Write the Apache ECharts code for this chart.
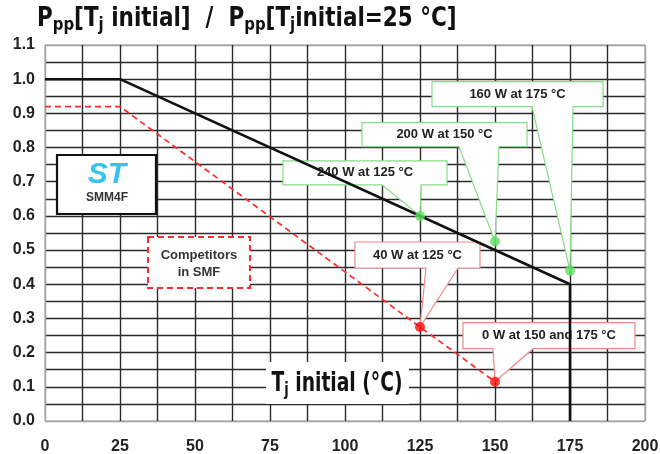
<!DOCTYPE html>
<html>
<head>
<meta charset="utf-8">
<script src="https://cdn.jsdelivr.net/npm/echarts@6/dist/echarts.min.js"></script>
<style>html,body{margin:0;padding:0;background:#fff;}#c{width:660px;height:454px;}</style>
</head>
<body>
<div id="c"></div>
<script>
// ---- data ----
const xTickValues = [0, 25, 50, 75, 100, 125, 150, 175, 200];
const yTickValues = [0.0, 0.1, 0.2, 0.3, 0.4, 0.5, 0.6, 0.7, 0.8, 0.9, 1.0, 1.1];
const stTemps = [0, 25, 175, 175];
const stRatio = [1.0, 1.0, 0.4, 0.0];
const compTemps = [0, 25, 125, 150];
const compRatio = [0.92, 0.92, 0.275, 0.115];
const stPointTemps = [125, 150, 175];
const stPointRatio = [0.6, 0.525, 0.44];
const stPointLabels = ['240 W at 125 °C', '200 W at 150 °C', '160 W at 175 °C'];
const compPointTemps = [125, 150];
const compPointRatio = [0.275, 0.115];
const compPointLabels = ['40 W at 125 °C', '0 W at 150 and 175 °C'];
const stBoxText = 'SMM4F';
const compBoxText = 'Competitors\nin SMF';

// ---- layout (callout boxes relative to the pointed mark, px): [left,right,top,bottom,pointerL,pointerR]
const stCalloutLayout = [[-137, 27, -55, -31, -38, 1], [-133, 32, -119, -95, -36, 4], [-138, 33, -189, -164, -38, 3]];
const compCalloutLayout = [[-65, 60, -85, -59, 6, 38], [-32, 140, -59, -33, -2, 38]];

const NARROW = '"DejaVu Sans Condensed", "Liberation Sans", Arial, sans-serif';
const SANS = '"Liberation Sans", Arial, sans-serif';

function zipPts(xs, ys) { return xs.map((x, i) => [x, ys[i]]); }
function lineColors(n) { const a = []; for (let i = 0; i < n; i++) a.push(i === 0 || i === n - 1 ? '#a0a0a0' : '#2a2a2a'); return a; }

const chart = echarts.init(document.getElementById('c'), null, { renderer: 'canvas' });
const xMin = xTickValues[0], xMax = xTickValues[xTickValues.length - 1];
const yMin = yTickValues[0], yMax = yTickValues[yTickValues.length - 1];

const subRich = {
  m: { fontFamily: NARROW, fontWeight: 'bold', fontSize: 26, fill: '#111', lineHeight: 30 },
  s: { fontFamily: NARROW, fontWeight: 'bold', fontSize: 18, fill: '#111', lineHeight: 18, padding: [10, 0, 0, 0], verticalAlign: 'bottom' }
};

chart.setOption({
  animation: false,
  backgroundColor: '#fff',
  grid: { left: 45, right: 15, top: 45, bottom: 33, show: true, borderColor: '#a0a0a0', borderWidth: 1,
    containLabel: false, outerBoundsMode: 'none' },
  xAxis: {
    type: 'value', min: xMin, max: xMax, interval: 12.5,
    axisLine: { show: false }, axisTick: { show: false },
    axisLabel: {
      margin: 18, fontFamily: SANS, fontWeight: 'bold', fontSize: 16, color: '#222',
      formatter: v => (xTickValues.indexOf(v) >= 0 ? String(v) : '')
    },
    splitLine: { show: true, lineStyle: { color: lineColors(17), width: 1.4 } }
  },
  yAxis: {
    type: 'value', min: yMin, max: yMax, interval: 0.05,
    axisLine: { show: false }, axisTick: { show: false },
    axisLabel: {
      margin: 10, fontFamily: SANS, fontWeight: 'bold', fontSize: 16, color: '#222',
      formatter: v => { const r = Math.round(v * 100); return r % 10 === 0 ? (r / 100).toFixed(1) : ''; }
    },
    splitLine: { show: true, lineStyle: { color: lineColors(23), width: 1.4 } }
  },
  series: [
    { type: 'line', z: 3, data: zipPts(stTemps, stRatio), showSymbol: false, symbol: 'none',
      lineStyle: { color: '#111', width: 2.6 } },
    { type: 'line', z: 3, data: zipPts(compTemps, compRatio), showSymbol: false, symbol: 'none',
      lineStyle: { color: '#ff2a2a', width: 1.7, type: [6, 4] } },
    { type: 'scatter', z: 4, data: zipPts(stPointTemps, stPointRatio), symbolSize: 10,
      itemStyle: { color: '#5ce05c' } },
    { type: 'scatter', z: 4, data: zipPts(compPointTemps, compPointRatio), symbolSize: 10,
      itemStyle: { color: '#ff0a0a' } }
  ]
});

function callout(pt, lay, text, stroke) {
  const p = chart.convertToPixel({ gridIndex: 0 }, pt);
  const [l, r, t, b, pl, pr] = lay;
  const x0 = p[0] + l, x1 = p[0] + r, y0 = p[1] + t, y1 = p[1] + b;
  const pts = [[x0, y0], [x1, y0], [x1, y1]];
  if (b < 0) { pts.push([p[0] + pr, y1], [p[0], p[1]], [p[0] + pl, y1]); }
  pts.push([x0, y1]);
  return [
    { type: 'polygon', z: 1, shape: { points: pts }, style: { fill: '#fff', stroke: stroke, lineWidth: 1.2 } },
    { type: 'text', z: 1, x: (x0 + x1) / 2, y: (y0 + y1) / 2,
      style: { text: text, fill: '#222', font: 'bold 13px ' + SANS, align: 'center', verticalAlign: 'middle' } }
  ];
}

const g = [];
// chart title
g.push({ type: 'text', z: 5, x: 37, y: 4, scaleX: 0.92,
  style: { text: '{m|P}{s|pp}{m|[T}{s|j}{m| initial]  /  P}{s|pp}{m|[T}{s|j}{m|initial=25 °C]}', align: 'left', verticalAlign: 'top', rich: subRich } });

stPointTemps.forEach((x, i) => g.push(...callout([x, stPointRatio[i]], stCalloutLayout[i], stPointLabels[i], '#86dc86')));
compPointTemps.forEach((x, i) => g.push(...callout([x, compPointRatio[i]], compCalloutLayout[i], compPointLabels[i], '#ef8a8a')));

// axis name box inside plot
g.push({ type: 'rect', z: 1, shape: { x: 266, y: 362, width: 143, height: 42 }, style: { fill: '#fff' } });
g.push({ type: 'text', z: 1, x: 337, y: 384, scaleX: 0.8,
  style: { text: '{m|T}{s|j}{m| initial (°C)}', align: 'center', verticalAlign: 'middle', rich: subRich } });

// ST logo box
g.push({ type: 'rect', z: 1, shape: { x: 57, y: 155, width: 99, height: 59 }, style: { fill: '#fff', stroke: '#111', lineWidth: 2.2 } });
g.push({ type: 'text', z: 1, x: 107, y: 175,
  style: { text: 'ST', fill: '#33c3ee', font: 'italic bold 30px ' + SANS, align: 'center', verticalAlign: 'middle' } });
g.push({ type: 'text', z: 1, x: 107, y: 198,
  style: { text: stBoxText, fill: '#333', font: 'bold 12px ' + SANS, align: 'center', verticalAlign: 'middle' } });

// competitors box
g.push({ type: 'rect', z: 1, shape: { x: 148, y: 237, width: 102, height: 51 }, style: { fill: '#fff', stroke: '#ff2a2a', lineWidth: 2, lineDash: [6, 4] } });
g.push({ type: 'text', z: 1, x: 199, y: 264,
  style: { text: compBoxText, fill: '#333', font: 'bold 13px ' + SANS, align: 'center', verticalAlign: 'middle', lineHeight: 17 } });

chart.setOption({ graphic: g });
</script>
</body>
</html>
